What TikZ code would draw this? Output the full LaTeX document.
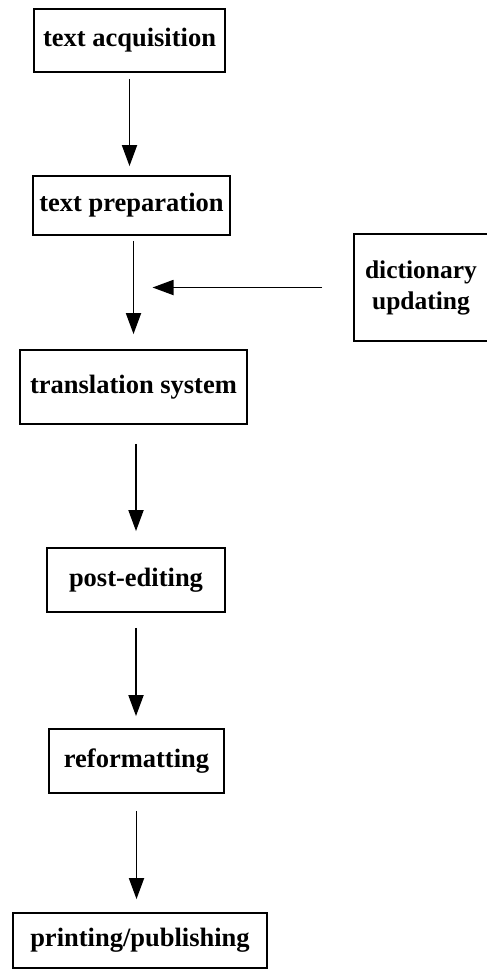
\documentclass[tikz,border=0pt]{standalone}
\usepackage{fontspec}
\setmainfont{Liberation Serif}
\usetikzlibrary{arrows.meta,calc}
\begin{document}
\begin{tikzpicture}[x=1pt,y=-1pt,
  box/.style={draw,line width=1.8pt,inner sep=0pt,align=center,
    font=\bfseries\fontsize{26.5}{31}\selectfont},
  flow/.style={line width=1.8pt,-{Triangle[length=21pt,width=15pt]}}]
\useasboundingbox (0,0) rectangle (487,970);
\node[box,minimum width=191pt,minimum height=63pt] (b1) at (129.5,40.5) {text acquisition};
\node[box,minimum width=197pt,minimum height=59pt] (b2) at (131.5,205.5) {text preparation};
\node[box,minimum width=227pt,minimum height=74pt] (b3) at (133.5,387) {translation system};
\node[box,minimum width=178pt,minimum height=64pt] (b4) at (136,580) {post-editing};
\node[box,minimum width=175pt,minimum height=64pt] (b5) at (136.5,761) {reformatting};
\node[box,minimum width=254pt,minimum height=55pt] (b6) at (140,940.5) {printing/publishing};
\node[box,draw=none,minimum width=132pt,minimum height=105pt,font=\bfseries\fontsize{25.5}{31}\selectfont] (d) at (421,287.5) {dictionary\\updating};
\draw[line width=1.8pt] (d.north east) -- (d.north west) -- (d.south west) -- (d.south east);
\coordinate (j) at (b3.north |- d.west);
\draw[flow,shorten <=6pt,shorten >=9pt] (b1.south) -- (b1.south |- b2.north);
\draw[flow,shorten <=5pt,shorten >=15pt] (b3.north |- b2.south) -- (b3.north);
\draw[flow,shorten <=32pt,shorten >=19pt] (d.west) -- (j);
\draw[flow,shorten <=19pt,shorten >=16pt] (b4.north |- b3.south) -- (b4.north);
\draw[flow,shorten <=15pt,shorten >=12pt] (b4.south) -- (b4.south |- b5.north);
\draw[flow,shorten <=17pt,shorten >=13pt] (b5.south) -- (b5.south |- b6.north);
\end{tikzpicture}
\end{document}
